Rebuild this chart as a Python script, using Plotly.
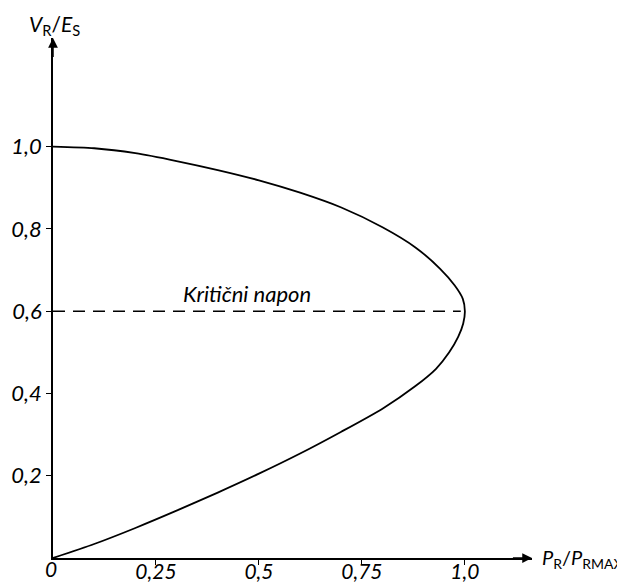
import plotly.graph_objects as go

# P-V (nose) curve, upper branch from V=1 down to the nose
p_upper = [0, 0.1, 0.2, 0.3, 0.4, 0.5, 0.6, 0.7, 0.8, 0.88, 0.94, 0.975, 0.995, 1.0]
v_upper = [1.0, 0.996, 0.984, 0.965, 0.943, 0.918, 0.888, 0.852, 0.804, 0.755, 0.703, 0.663, 0.63, 0.60]

# lower branch from the nose back to the origin
p_lower = [0.996, 0.984, 0.962, 0.93, 0.88, 0.8, 0.7, 0.6, 0.5, 0.4, 0.3, 0.2, 0.1, 0]
v_lower = [0.57, 0.538, 0.5, 0.46, 0.418, 0.363, 0.307, 0.254, 0.205, 0.159, 0.115, 0.073, 0.034, 0]

crit_p = [0, 0.99]
crit_v = [0.6, 0.6]
crit_label = "Kritični napon"

x_ticks = [0.25, 0.5, 0.75, 1.0]
x_tick_text = ["0,25", "0,5", "0,75", "1,0"]
y_ticks = [0.2, 0.4, 0.6, 0.8, 1.0]
y_tick_text = ["0,2", "0,4", "0,6", "0,8", "1,0"]

x_max = 1.163
y_max = 1.264

font_family = "Lato, 'Open Sans', sans-serif"
ink = "black"

fig = go.Figure()

fig.add_trace(go.Scatter(
    x=p_upper + p_lower, y=v_upper + v_lower,
    mode="lines", line=dict(color=ink, width=1.8, shape="spline", smoothing=0.7),
    hoverinfo="skip", showlegend=False, cliponaxis=False
))

fig.add_trace(go.Scatter(
    x=crit_p, y=crit_v, mode="lines",
    line=dict(color=ink, width=1.5, dash="12px,8px"),
    hoverinfo="skip", showlegend=False
))

italic = dict(family=font_family, size=22, color=ink, style="italic")
italic_x = dict(italic, size=21)

fig.update_xaxes(
    range=[0, x_max], showgrid=False, zeroline=False, automargin=False,
    showline=True, linecolor=ink, linewidth=1.8,
    tickvals=x_ticks, ticktext=x_tick_text, ticks="outside", ticklen=5,
    tickcolor=ink, tickwidth=1, tickfont=italic_x, ticklabelstandoff=-11
)
fig.update_yaxes(
    range=[0, y_max], showgrid=False, zeroline=False, automargin=False,
    showline=True, linecolor=ink, linewidth=1.8,
    tickvals=y_ticks, ticktext=y_tick_text, ticks="outside", ticklen=5,
    tickcolor=ink, tickwidth=1, tickfont=italic
)

annotations = [
    # arrow heads at the end of both axes
    dict(x=x_max, y=0, ax=x_max - 0.05, ay=0, xref="x", yref="y", axref="x", ayref="y",
         showarrow=True, arrowhead=2, arrowsize=1.3, arrowwidth=1.5, arrowcolor=ink, text=""),
    dict(x=0, y=y_max, ax=0, ay=y_max - 0.05, xref="x", yref="y", axref="x", ayref="y",
         showarrow=True, arrowhead=2, arrowsize=1.3, arrowwidth=1.5, arrowcolor=ink, text=""),
    # axis titles
    dict(x=x_max, y=0, xref="x", yref="y", xanchor="left", yanchor="middle", xshift=8,
         text="<i>P</i><sub>R</sub>/<i>P</i><sub>RMAX</sub>", showarrow=False,
         font=dict(family=font_family, size=20, color=ink)),
    dict(x=0, y=y_max, xref="x", yref="y", xanchor="center", yanchor="bottom", xshift=1, yshift=-3,
         text="<i>V</i><sub>R</sub>/<i>E</i><sub>S</sub>", showarrow=False,
         font=dict(family=font_family, size=21, color=ink)),
    # origin label
    dict(x=0, y=0, xref="x", yref="y", xanchor="center", yanchor="top", xshift=-2, yshift=4,
         text="0", showarrow=False, font=italic_x),
    # critical voltage label
    dict(x=0.471, y=0.6, xref="x", yref="y", xanchor="center", yanchor="bottom", yshift=2,
         text=crit_label, showarrow=False, font=italic),
]

# the page body adds an 8px offset, so the figure is 8px smaller than the window
fig.update_layout(
    width=617, height=575,
    margin=dict(l=45, r=93, t=30, b=25),
    paper_bgcolor="white", plot_bgcolor="white",
    font=dict(family=font_family, color=ink),
    annotations=annotations,
    showlegend=False
)

fig.write_html("out.html")
